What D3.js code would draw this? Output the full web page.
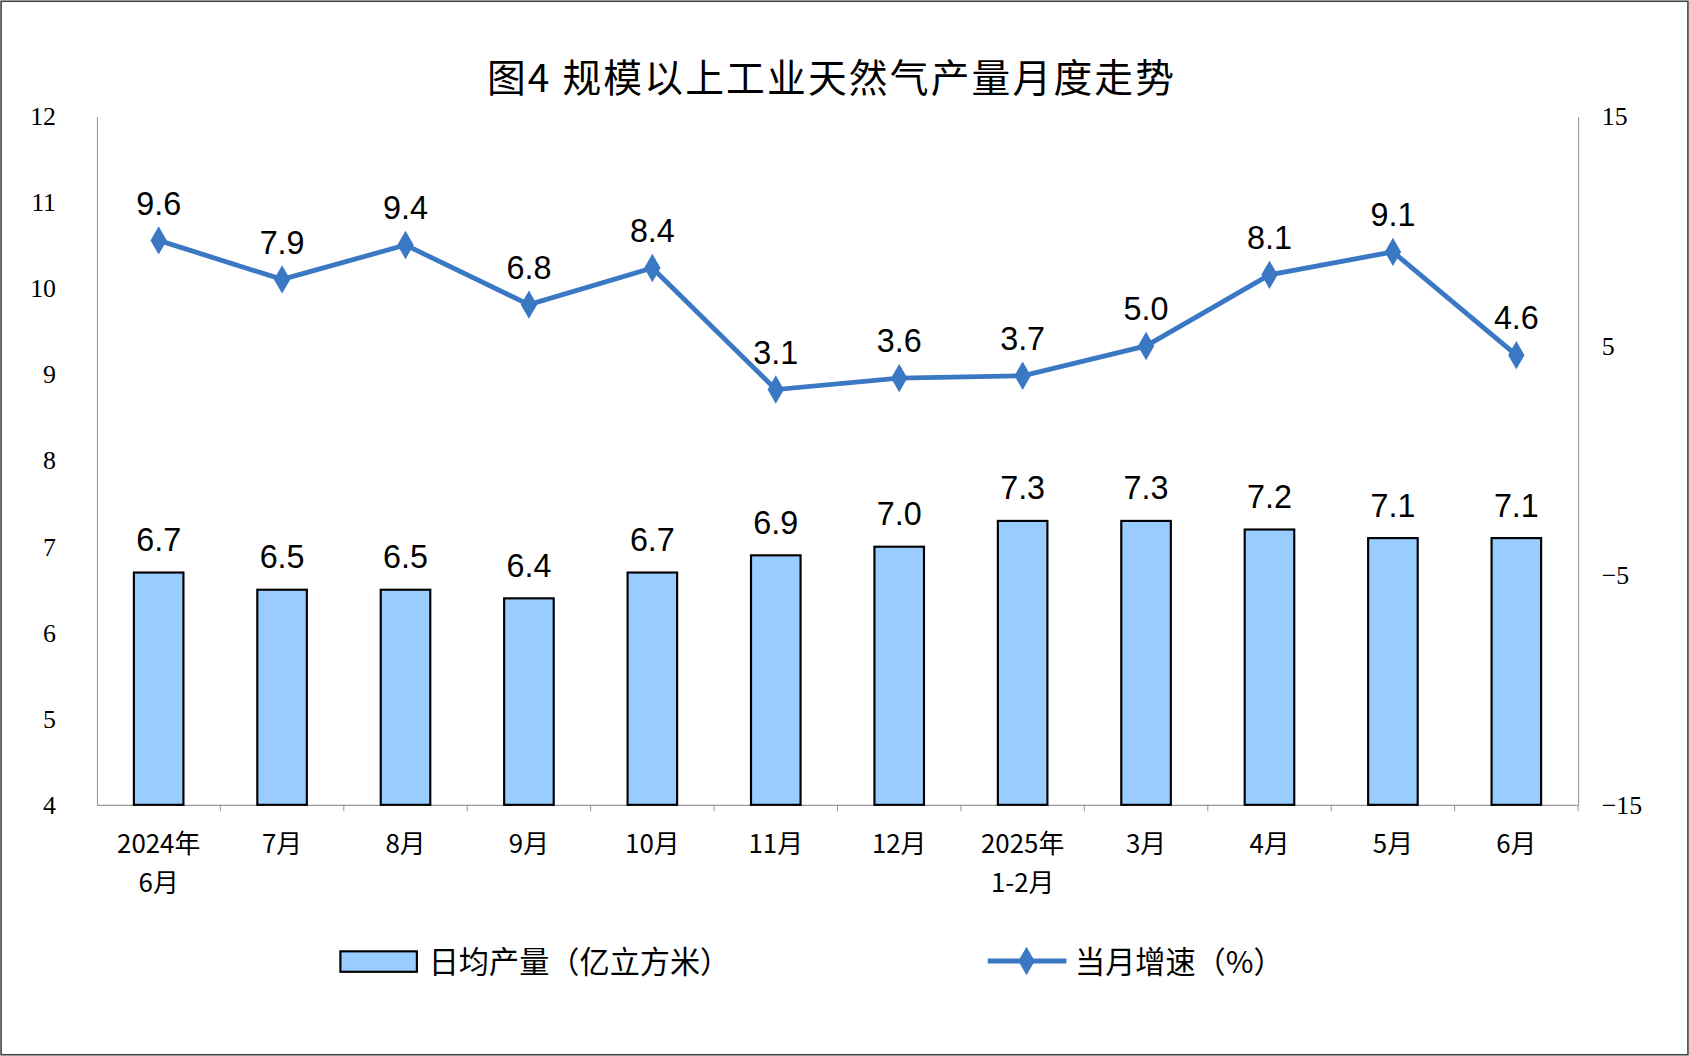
<!DOCTYPE html>
<html><head><meta charset="utf-8">
<script src="https://cdn.jsdelivr.net/npm/d3@7"></script>
<style>body{margin:0;background:#fff}</style>
</head><body>
<svg id="chart"></svg>
<script>
// data
const months = ['2024年|6月','7月','8月','9月','10月','11月','12月','2025年|1-2月','3月','4月','5月','6月'];
const dailyOutput = [6.7, 6.5, 6.5, 6.4, 6.7, 6.9, 7.0, 7.3, 7.3, 7.2, 7.1, 7.1];
const growth = [9.6, 7.9, 9.4, 6.8, 8.4, 3.1, 3.6, 3.7, 5.0, 8.1, 9.1, 4.6];
const leftTicks = [4, 5, 6, 7, 8, 9, 10, 11, 12];
const rightTicks = [-15, -5, 5, 15];

const W = 1568, H = 980;
const margin = { top: 108, bottom: 233, left: 90, right: 103 };
const svg = d3.select('#chart').attr('width', 1689).attr('height', 1056)
    .attr('viewBox', `0 0 ${W} ${H}`);

svg.append('rect').attr('x', 1).attr('y', 1).attr('width', W - 2).attr('height', H - 2)
    .attr('fill', '#fff').attr('stroke', '#444').attr('stroke-width', 1.5);

svg.append('text').attr('x', 772).attr('y', 85).attr('text-anchor', 'middle')
    .attr('font-family', 'Noto Sans CJK SC').attr('font-size', 36).attr('font-weight', 400)
    .attr('letter-spacing', 2)
    .text('图4  规模以上工业天然气产量月度走势');

const x = d3.scaleBand().domain(months).range([margin.left, W - margin.right]);
const yL = d3.scaleLinear().domain([4, 12]).range([H - margin.bottom, margin.top]);
const yR = d3.scaleLinear().domain([-15, 15]).range([H - margin.bottom, margin.top]);

const tickFont = 'Liberation Serif';
// left axis
const gL = svg.append('g').attr('transform', `translate(${margin.left},0)`)
    .call(d3.axisLeft(yL).tickValues(leftTicks).tickSize(0).tickPadding(38));
gL.select('.domain').attr('stroke', '#999');
gL.selectAll('text').attr('font-family', tickFont).attr('font-size', 24).attr('fill', '#000');
// right axis
const gR = svg.append('g').attr('transform', `translate(${W - margin.right},0)`)
    .call(d3.axisRight(yR).tickValues(rightTicks).tickSize(0).tickPadding(22));
gR.select('.domain').attr('stroke', '#999');
gR.selectAll('text').attr('font-family', tickFont).attr('font-size', 24).attr('fill', '#000');
// bottom axis
const gB = svg.append('g').attr('transform', `translate(0,${H - margin.bottom})`)
    .call(d3.axisBottom(x).tickSize(0).tickFormat(''));
gB.select('.domain').attr('stroke', '#999');
months.forEach((m, i) => {
    svg.append('line').attr('x1', margin.left + x.step() * (i + 1)).attr('x2', margin.left + x.step() * (i + 1))
        .attr('y1', H - margin.bottom).attr('y2', H - margin.bottom + 6).attr('stroke', '#999');
    const t = svg.append('text').attr('x', x(m) + x.bandwidth() / 2).attr('y', H - margin.bottom + 45)
        .attr('text-anchor', 'middle').attr('font-family', 'Noto Sans CJK SC').attr('font-size', 24);
    m.split('|').forEach((p, j) => t.append('tspan').attr('x', x(m) + x.bandwidth() / 2).attr('dy', j ? 36 : 0).text(p));
});

// bars
const bw = 46;
svg.selectAll('.bar').data(dailyOutput).enter().append('rect')
    .attr('x', (d, i) => x(months[i]) + x.bandwidth() / 2 - bw / 2)
    .attr('y', d => yL(d)).attr('width', bw).attr('height', d => yL(4) - yL(d))
    .attr('fill', '#99ccff').attr('stroke', '#000').attr('stroke-width', 2);
svg.selectAll('.blab').data(dailyOutput).enter().append('text')
    .attr('x', (d, i) => x(months[i]) + x.bandwidth() / 2).attr('y', d => yL(d) - 20)
    .attr('text-anchor', 'middle').attr('font-family', 'Liberation Sans').attr('font-size', 30)
    .text(d => d.toFixed(1));

// line
const cx = (d, i) => x(months[i]) + x.bandwidth() / 2;
svg.append('path').datum(growth)
    .attr('d', d3.line().x(cx).y(d => yR(d)))
    .attr('fill', 'none').attr('stroke', '#3a78c3').attr('stroke-width', 4.5);
const diamond = d3.symbol().type(d3.symbolDiamond).size(200);
svg.selectAll('.pt').data(growth).enter().append('path')
    .attr('d', diamond).attr('fill', '#3a78c3')
    .attr('transform', (d, i) => `translate(${cx(d, i)},${yR(d)})`);
svg.selectAll('.llab').data(growth).enter().append('text')
    .attr('x', cx).attr('y', d => yR(d) - 24)
    .attr('text-anchor', 'middle').attr('font-family', 'Liberation Sans').attr('font-size', 30)
    .text(d => d.toFixed(1));

// legend
const lg = svg.append('g').attr('font-family', 'Noto Sans CJK SC').attr('font-size', 28);
lg.append('rect').attr('x', 316).attr('y', 883).attr('width', 71).attr('height', 19)
    .attr('fill', '#99ccff').attr('stroke', '#000').attr('stroke-width', 2);
lg.append('text').attr('x', 398).attr('y', 903).text('日均产量（亿立方米）');
lg.append('line').attr('x1', 917).attr('x2', 990).attr('y1', 892).attr('y2', 892)
    .attr('stroke', '#3a78c3').attr('stroke-width', 4.5);
lg.append('path').attr('d', diamond).attr('fill', '#3a78c3').attr('transform', 'translate(953,892)');
lg.append('text').attr('x', 998).attr('y', 903).text('当月增速（%）');
</script>
</body></html>
